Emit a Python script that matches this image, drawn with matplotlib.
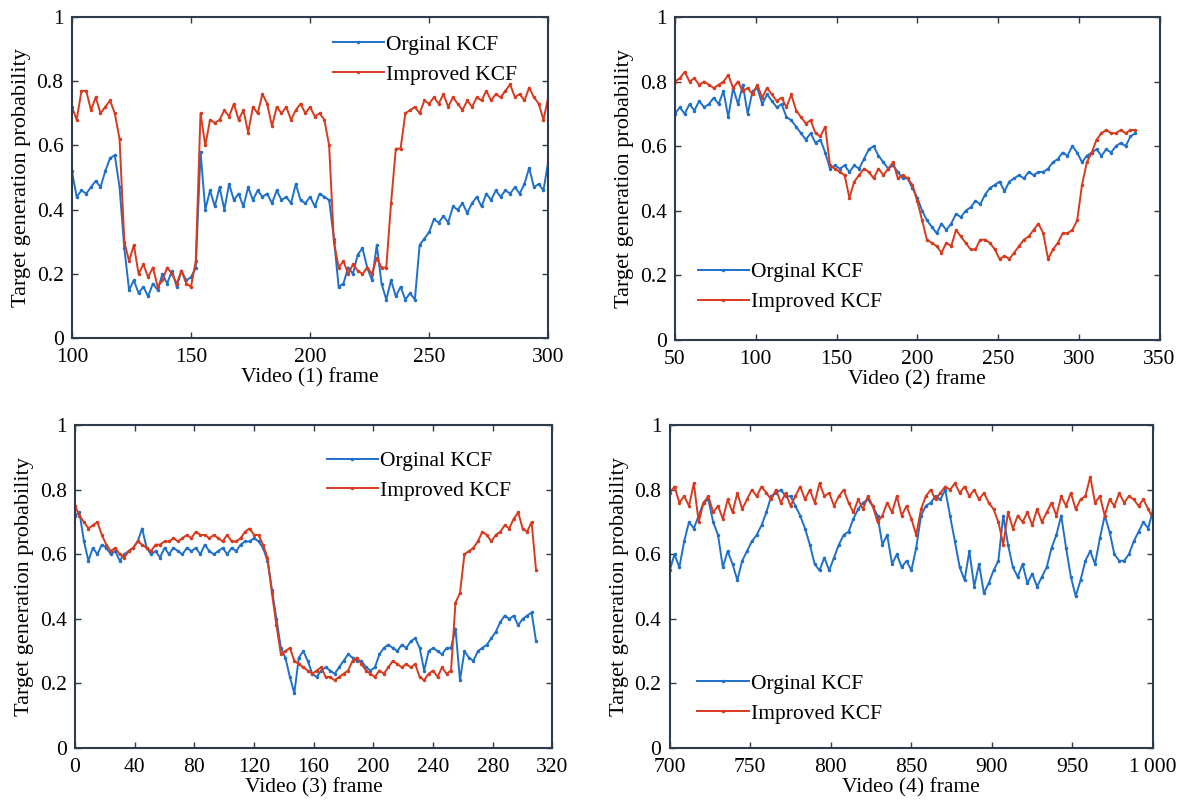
import numpy as np
import matplotlib
matplotlib.use("Agg")
import matplotlib.pyplot as plt

plt.rcParams['font.family'] = ['Liberation Serif', 'DejaVu Serif']
plt.rcParams['font.size'] = 15.5

# Video (1): frames 100..300, every 2nd frame
frames1 = np.arange(100, 301, 2)
orig1 = [0.52, 0.44, 0.46, 0.45, 0.47, 0.49, 0.47, 0.52, 0.56, 0.57,
         0.47, 0.28, 0.15, 0.18, 0.14, 0.16, 0.13, 0.17, 0.15, 0.20,
         0.17, 0.21, 0.16, 0.21, 0.18, 0.19, 0.22, 0.58, 0.40, 0.46,
         0.41, 0.47, 0.40, 0.48, 0.43, 0.45, 0.41, 0.47, 0.43, 0.46,
         0.44, 0.45, 0.42, 0.46, 0.43, 0.44, 0.42, 0.48, 0.43, 0.42,
         0.44, 0.41, 0.45, 0.44, 0.43, 0.31, 0.16, 0.17, 0.22, 0.20,
         0.26, 0.28, 0.22, 0.18, 0.29, 0.17, 0.12, 0.18, 0.13, 0.16,
         0.12, 0.14, 0.12, 0.29, 0.31, 0.33, 0.37, 0.36, 0.38, 0.36,
         0.41, 0.40, 0.42, 0.39, 0.42, 0.44, 0.41, 0.45, 0.43, 0.46,
         0.44, 0.46, 0.45, 0.47, 0.45, 0.48, 0.53, 0.47, 0.48, 0.46,
         0.55]
impr1 = [0.72, 0.68, 0.77, 0.77, 0.71, 0.75, 0.70, 0.72, 0.74, 0.70,
         0.62, 0.30, 0.24, 0.29, 0.20, 0.23, 0.19, 0.22, 0.16, 0.18,
         0.22, 0.20, 0.17, 0.21, 0.17, 0.16, 0.24, 0.70, 0.60, 0.68,
         0.67, 0.68, 0.71, 0.69, 0.73, 0.68, 0.71, 0.64, 0.72, 0.70,
         0.76, 0.73, 0.66, 0.72, 0.70, 0.72, 0.68, 0.71, 0.73, 0.70,
         0.72, 0.69, 0.70, 0.68, 0.60, 0.30, 0.22, 0.24, 0.20, 0.23,
         0.21, 0.20, 0.22, 0.20, 0.25, 0.22, 0.22, 0.42, 0.59, 0.59,
         0.70, 0.71, 0.72, 0.70, 0.74, 0.73, 0.75, 0.73, 0.76, 0.72,
         0.75, 0.73, 0.71, 0.74, 0.72, 0.75, 0.74, 0.77, 0.74, 0.76,
         0.75, 0.77, 0.79, 0.75, 0.76, 0.74, 0.78, 0.75, 0.73, 0.68,
         0.75]

# Video (2): frames 50..335, every 3rd frame
frames2 = np.arange(50, 336, 3)
orig2 = [0.70, 0.72, 0.70, 0.73, 0.71, 0.74, 0.72, 0.73, 0.75, 0.73,
         0.77, 0.69, 0.78, 0.73, 0.79, 0.70, 0.77, 0.78, 0.73, 0.76,
         0.74, 0.72, 0.73, 0.69, 0.68, 0.66, 0.64, 0.62, 0.64, 0.61,
         0.62, 0.58, 0.53, 0.54, 0.53, 0.54, 0.52, 0.54, 0.53, 0.56,
         0.59, 0.60, 0.57, 0.55, 0.53, 0.54, 0.52, 0.50, 0.50, 0.47,
         0.44, 0.40, 0.37, 0.35, 0.33, 0.36, 0.34, 0.36, 0.39, 0.38,
         0.40, 0.41, 0.43, 0.42, 0.45, 0.47, 0.48, 0.49, 0.46, 0.49,
         0.50, 0.51, 0.50, 0.52, 0.51, 0.52, 0.52, 0.53, 0.55, 0.56,
         0.58, 0.57, 0.60, 0.58, 0.55, 0.57, 0.58, 0.59, 0.57, 0.59,
         0.58, 0.60, 0.61, 0.60, 0.63, 0.64]
impr2 = [0.80, 0.81, 0.83, 0.80, 0.81, 0.79, 0.80, 0.79, 0.78, 0.79,
         0.80, 0.82, 0.78, 0.80, 0.77, 0.78, 0.76, 0.79, 0.75, 0.78,
         0.76, 0.74, 0.75, 0.72, 0.76, 0.71, 0.69, 0.67, 0.68, 0.64,
         0.63, 0.66, 0.54, 0.53, 0.52, 0.51, 0.44, 0.49, 0.51, 0.53,
         0.52, 0.50, 0.53, 0.51, 0.53, 0.55, 0.50, 0.51, 0.50, 0.48,
         0.43, 0.37, 0.31, 0.30, 0.29, 0.27, 0.30, 0.29, 0.34, 0.32,
         0.30, 0.28, 0.28, 0.31, 0.31, 0.30, 0.28, 0.25, 0.26, 0.25,
         0.27, 0.29, 0.31, 0.32, 0.34, 0.36, 0.33, 0.25, 0.28, 0.30,
         0.33, 0.33, 0.34, 0.37, 0.48, 0.55, 0.58, 0.62, 0.64, 0.65,
         0.64, 0.64, 0.65, 0.64, 0.65, 0.65]

# Video (3): frames 0..309, every 3rd frame
frames3 = np.arange(0, 310, 3)
orig3 = [0.72, 0.73, 0.64, 0.58, 0.62, 0.60, 0.63, 0.62, 0.60, 0.61,
         0.58, 0.60, 0.61, 0.62, 0.64, 0.68, 0.62, 0.60, 0.61, 0.59,
         0.62, 0.60, 0.62, 0.61, 0.60, 0.62, 0.61, 0.62, 0.60, 0.63,
         0.61, 0.60, 0.61, 0.62, 0.60, 0.62, 0.61, 0.63, 0.64, 0.64,
         0.65, 0.64, 0.62, 0.58, 0.49, 0.40, 0.31, 0.28, 0.22, 0.17,
         0.28, 0.30, 0.27, 0.23, 0.22, 0.24, 0.25, 0.24, 0.23, 0.25,
         0.27, 0.29, 0.28, 0.27, 0.27, 0.25, 0.24, 0.25, 0.29, 0.31,
         0.32, 0.31, 0.30, 0.32, 0.31, 0.33, 0.34, 0.31, 0.24, 0.30,
         0.31, 0.30, 0.29, 0.31, 0.31, 0.37, 0.21, 0.30, 0.28, 0.27,
         0.30, 0.31, 0.32, 0.34, 0.36, 0.39, 0.41, 0.40, 0.41, 0.38,
         0.40, 0.41, 0.42, 0.33]
impr3 = [0.75, 0.72, 0.70, 0.68, 0.69, 0.70, 0.66, 0.63, 0.61, 0.62,
         0.60, 0.59, 0.61, 0.62, 0.64, 0.63, 0.62, 0.61, 0.63, 0.63,
         0.64, 0.64, 0.65, 0.64, 0.65, 0.66, 0.65, 0.67, 0.66, 0.66,
         0.65, 0.66, 0.65, 0.64, 0.66, 0.64, 0.64, 0.65, 0.67, 0.68,
         0.66, 0.66, 0.63, 0.59, 0.48, 0.38, 0.29, 0.30, 0.31, 0.27,
         0.26, 0.25, 0.24, 0.23, 0.24, 0.25, 0.22, 0.22, 0.21, 0.22,
         0.23, 0.24, 0.27, 0.28, 0.26, 0.24, 0.23, 0.22, 0.24, 0.23,
         0.25, 0.27, 0.26, 0.25, 0.26, 0.25, 0.26, 0.22, 0.21, 0.23,
         0.24, 0.22, 0.25, 0.23, 0.24, 0.45, 0.48, 0.60, 0.61, 0.62,
         0.64, 0.67, 0.66, 0.64, 0.66, 0.67, 0.69, 0.68, 0.71, 0.73,
         0.68, 0.67, 0.70, 0.55]

# Video (4): frames 700..1000, every 3rd frame
frames4 = np.arange(700, 1001, 3)
orig4 = [0.55, 0.60, 0.56, 0.64, 0.70, 0.68, 0.72, 0.76, 0.77, 0.70,
         0.66, 0.56, 0.61, 0.57, 0.52, 0.58, 0.61, 0.64, 0.66, 0.69,
         0.73, 0.78, 0.79, 0.80, 0.78, 0.78, 0.75, 0.72, 0.68, 0.63,
         0.57, 0.55, 0.59, 0.55, 0.59, 0.63, 0.66, 0.67, 0.71, 0.74,
         0.76, 0.77, 0.75, 0.72, 0.63, 0.66, 0.57, 0.60, 0.56, 0.58,
         0.55, 0.62, 0.72, 0.75, 0.76, 0.78, 0.77, 0.80, 0.72, 0.64,
         0.56, 0.52, 0.61, 0.50, 0.57, 0.48, 0.51, 0.55, 0.58, 0.72,
         0.63, 0.56, 0.53, 0.57, 0.51, 0.54, 0.50, 0.53, 0.56, 0.62,
         0.66, 0.72, 0.62, 0.53, 0.47, 0.52, 0.58, 0.61, 0.57, 0.65,
         0.72, 0.67, 0.60, 0.58, 0.58, 0.60, 0.64, 0.67, 0.70, 0.68,
         0.74]
impr4 = [0.79, 0.81, 0.76, 0.78, 0.75, 0.82, 0.70, 0.76, 0.78, 0.73,
         0.75, 0.71, 0.77, 0.73, 0.79, 0.74, 0.77, 0.80, 0.78, 0.81,
         0.79, 0.77, 0.80, 0.76, 0.79, 0.75, 0.78, 0.81, 0.77, 0.80,
         0.76, 0.82, 0.78, 0.79, 0.75, 0.78, 0.80, 0.76, 0.73, 0.77,
         0.74, 0.78, 0.75, 0.70, 0.72, 0.76, 0.73, 0.78, 0.72, 0.75,
         0.71, 0.66, 0.74, 0.78, 0.80, 0.77, 0.79, 0.81, 0.80, 0.82,
         0.79, 0.81, 0.78, 0.80, 0.77, 0.79, 0.76, 0.74, 0.70, 0.63,
         0.73, 0.68, 0.72, 0.70, 0.73, 0.69, 0.74, 0.70, 0.73, 0.76,
         0.72, 0.78, 0.75, 0.79, 0.74, 0.77, 0.78, 0.84, 0.76, 0.78,
         0.72, 0.77, 0.75, 0.79, 0.76, 0.78, 0.77, 0.75, 0.77, 0.74,
         0.71]

blue = '#1f70c9'
red = '#d83a1e'
spine_col = '#2e3b4a'

panels = [
    # frames, orig, impr, xlim, xticks, xticklabels, xlabel, axes rect, legend anchor
    (frames1, orig1, impr1, (100, 300), [100, 150, 200, 250, 300], None,
     'Video (1) frame', [0.061, 0.582, 0.404, 0.397], (0.52, 0.985)),
    (frames2, orig2, impr2, (50, 350), [50, 100, 150, 200, 250, 300, 350], None,
     'Video (2) frame', [0.5725, 0.580, 0.411, 0.399], (0.02, 0.28)),
    (frames3, orig3, impr3, (0, 320), list(range(0, 321, 40)), None,
     'Video (3) frame', [0.0636, 0.0754, 0.405, 0.399], (0.50, 0.96)),
    (frames4, orig4, impr4, (700, 1000), [700, 750, 800, 850, 900, 950, 1000],
     ['700', '750', '800', '850', '900', '950', '1\u2009000'],
     'Video (4) frame', [0.568, 0.0754, 0.41, 0.399], (0.03, 0.27)),
]

fig = plt.figure(figsize=(11.79, 8.09), dpi=100)

for fr, o, im, xl, xt, xtl, xlab, rect, anchor in panels:
    ax = fig.add_axes(rect)
    ax.plot(fr, o, color=blue, lw=1.4, marker='.', ms=3, label='Orginal KCF')
    ax.plot(fr, im, color=red, lw=1.4, marker='.', ms=3, label='Improved KCF')
    ax.set_xlim(*xl)
    ax.set_ylim(0, 1)
    ax.set_xticks(xt)
    if xtl is not None:
        ax.set_xticklabels(xtl)
    ax.set_yticks([0, 0.2, 0.4, 0.6, 0.8, 1])
    ax.set_yticklabels(['0', '0.2', '0.4', '0.6', '0.8', '1'])
    ax.set_xlabel(xlab, labelpad=1)
    ax.set_ylabel('Target generation probability', fontsize=16, labelpad=4)
    ax.tick_params(direction='in', top=True, right=True, length=4,
                   width=1.0, color=spine_col)
    ax.tick_params(axis='x', pad=7)
    ax.tick_params(axis='y', pad=6)
    for s in ax.spines.values():
        s.set_color(spine_col)
        s.set_linewidth(1.5)
    ax.legend(loc='upper left', bbox_to_anchor=anchor, frameon=False,
              handlelength=2.4, handletextpad=0.1, borderaxespad=0.2,
              labelspacing=0.45)

fig.savefig('out.png', dpi=100)
